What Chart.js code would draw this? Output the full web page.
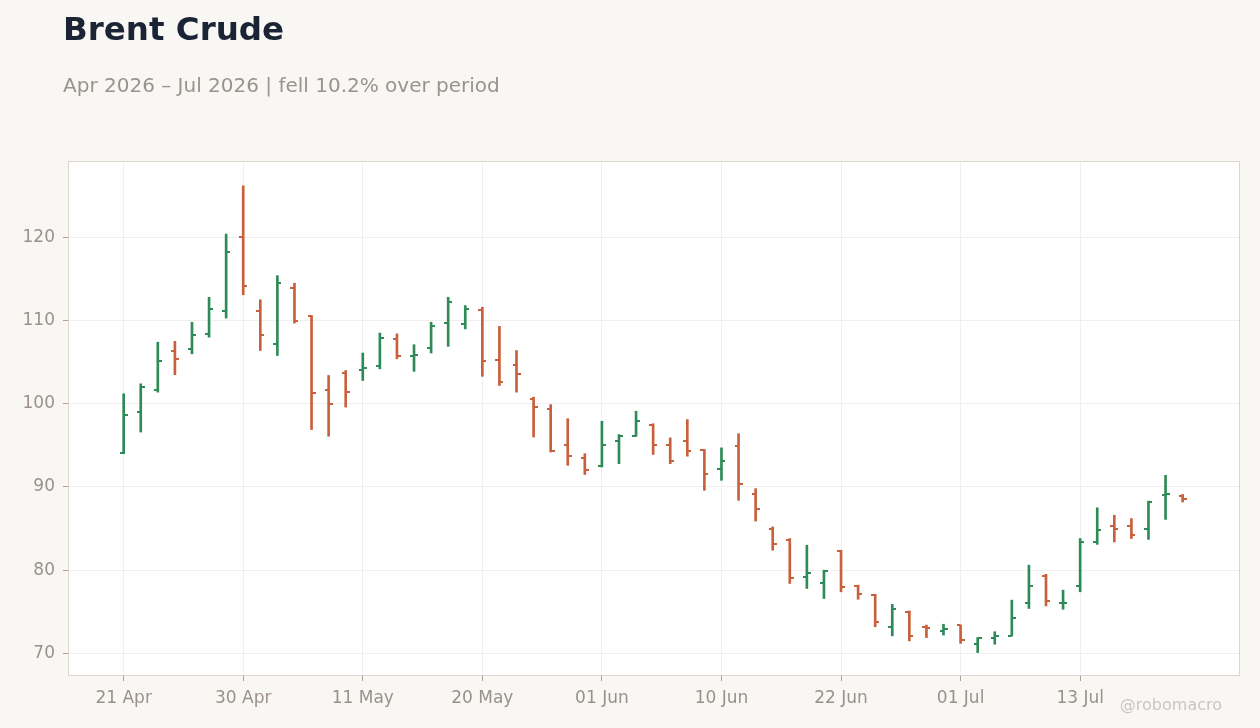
<!DOCTYPE html>
<html>
<head>
<meta charset="utf-8">
<script src="https://cdn.jsdelivr.net/npm/chart.js@4.4.1/dist/chart.umd.min.js"></script>
<style>
html,body{margin:0;padding:0;background:#f9f7f4;}
#wrap{position:relative;width:1260px;height:728px;}
</style>
</head>
<body>
<div id="wrap"><canvas id="c"></canvas></div>
<script>
/* DATA */
const dates=['21 Apr','22 Apr','23 Apr','24 Apr','27 Apr','28 Apr','29 Apr','30 Apr',
  '01 May','04 May','05 May','06 May','07 May','08 May','11 May','12 May','13 May','14 May','15 May',
  '18 May','19 May','20 May','21 May','22 May','26 May','27 May','28 May','29 May',
  '01 Jun','02 Jun','03 Jun','04 Jun','05 Jun','08 Jun','09 Jun','10 Jun','11 Jun','12 Jun',
  '15 Jun','16 Jun','17 Jun','18 Jun','22 Jun','23 Jun','24 Jun','25 Jun','26 Jun','29 Jun','30 Jun',
  '01 Jul','02 Jul','06 Jul','07 Jul','08 Jul','09 Jul','10 Jul','13 Jul','14 Jul','15 Jul','16 Jul',
  '17 Jul','20 Jul','21 Jul'];
const opens=[94.1,99.0,101.7,106.4,106.6,108.4,111.2,120.1,111.2,107.2,113.9,110.6,101.6,103.7,104.0,104.5,
  107.8,105.7,106.7,109.7,109.6,111.3,105.3,104.7,100.6,99.4,95.0,93.5,92.5,95.5,96.1,97.4,95.1,95.5,94.4,
  92.2,94.9,89.2,85.0,83.6,79.2,78.4,82.3,78.1,77.0,73.2,75.0,73.2,72.7,73.4,71.1,71.9,72.1,76.0,79.3,76.0,
  78.1,83.4,85.3,85.3,84.9,89.0,88.9];
const highs=[101.2,102.4,107.4,107.5,109.8,112.8,120.4,126.2,112.5,115.4,114.5,110.6,103.4,104.0,106.1,108.5,
  108.4,107.1,109.8,112.8,111.8,111.6,109.3,106.4,100.8,99.9,98.2,94.0,97.9,96.3,99.1,97.6,95.9,98.1,94.5,
  94.7,96.4,89.8,85.2,83.8,83.0,80.0,82.4,78.2,77.1,75.9,75.1,73.4,73.5,73.4,71.9,72.6,76.4,80.6,79.5,77.6,
  83.8,87.5,86.6,86.2,88.3,91.4,89.1];
const lows=[94.0,96.6,101.4,103.5,106.0,108.0,110.3,113.1,106.4,105.8,109.7,96.9,96.1,99.6,102.8,104.2,
  105.4,103.9,106.1,106.9,109.0,103.3,102.2,101.4,96.0,94.2,92.6,91.5,92.4,92.8,96.1,93.9,92.8,93.7,89.6,
  90.8,88.4,85.9,82.4,78.4,77.8,76.6,77.4,76.5,73.2,72.1,71.5,71.9,72.2,71.2,70.1,71.1,72.1,75.4,75.7,75.3,
  77.4,83.1,83.4,83.8,83.7,86.1,88.2];
const closes=[98.6,102.0,105.2,105.4,108.3,111.4,118.2,114.2,108.3,114.5,109.9,101.3,100.0,101.4,104.3,107.9,
  105.7,105.9,109.4,112.2,111.4,105.1,102.6,103.6,99.6,94.3,93.7,92.1,95.0,96.1,97.9,95.0,93.1,94.3,91.5,
  93.1,90.4,87.3,83.2,79.0,79.6,79.9,78.0,77.1,73.8,75.3,72.1,73.1,72.9,71.6,71.8,72.1,74.2,78.1,76.3,76.1,
  83.4,84.8,84.9,84.2,88.2,89.2,88.5];
const xTicks=[0,7,14,21,28,35,42,49,56];
const yTicks=[70,80,90,100,110,120];

const UP='#2e8b57',DN='#c8603c';
const isUp=i=>closes[i]>=opens[i];

/* tick marks for open (left) and close (right) */
function tickImg(color,side){
  const cv=document.createElement('canvas');
  cv.width=8;cv.height=2;
  const g=cv.getContext('2d');
  g.fillStyle=color;
  g.fillRect(side==='left'?0:4,0,4,2);
  return cv;
}
const IMG={upL:tickImg(UP,'left'),upR:tickImg(UP,'right'),dnL:tickImg(DN,'left'),dnR:tickImg(DN,'right')};

/* PLUGINS */
const frame={
  id:'frame',
  beforeDraw(ch){
    const {ctx,chartArea:a}=ch;
    ctx.save();
    ctx.fillStyle='#f9f7f4';ctx.fillRect(0,0,ch.width,ch.height);
    ctx.fillStyle='#ffffff';ctx.fillRect(a.left,a.top,a.right-a.left,a.bottom-a.top);
    ctx.restore();
  },
  beforeDatasetsDraw(ch){
    const {ctx,chartArea:a}=ch;
    ctx.save();
    ctx.strokeStyle='#ddd6ce';ctx.lineWidth=1;
    ctx.strokeRect(a.left-0.5,a.top-0.5,a.right-a.left+1,a.bottom-a.top+1);
    ctx.restore();
  },
  afterDraw(ch){
    const ctx=ch.ctx;
    ctx.save();
    ctx.textBaseline='alphabetic';
    ctx.fillStyle='#1b2434';ctx.font='bold 32.5px "DejaVu Sans"';
    ctx.fillText('Brent Crude',63,40);
    ctx.fillStyle='#9a938d';ctx.font='20px "DejaVu Sans"';
    ctx.fillText('Apr 2026 – Jul 2026 | fell 10.2% over period',63,92);
    ctx.fillStyle='#cbc6c1';ctx.font='16px "DejaVu Sans"';ctx.textAlign='right';
    ctx.fillText('@robomacro',1222,710);
    ctx.restore();
  }
};

/* CHART */
const tickFont={family:'"DejaVu Sans"',size:17};
new Chart(document.getElementById('c'),{
  type:'bar',
  data:{datasets:[
    {data:dates.map((d,i)=>({x:i,y:[lows[i],highs[i]]})),
     backgroundColor:dates.map((d,i)=>isUp(i)?UP:DN),barThickness:2,borderWidth:0},
    {type:'scatter',data:dates.map((d,i)=>({x:i,y:opens[i]})),pointRadius:4,
     pointStyle:c=>isUp(c.dataIndex)?IMG.upL:IMG.dnL},
    {type:'scatter',data:dates.map((d,i)=>({x:i,y:closes[i]})),pointRadius:4,
     pointStyle:c=>isUp(c.dataIndex)?IMG.upR:IMG.dnR},
  ]},
  options:{
    responsive:true,maintainAspectRatio:false,animation:false,events:[],
    layout:{padding:{top:162,right:21,left:0,bottom:0}},
    plugins:{legend:{display:false},tooltip:{enabled:false}},
    scales:{
      x:{type:'linear',min:-3.2,max:65.3,offset:false,
        afterBuildTicks:s=>{s.ticks=xTicks.map(v=>({value:v}));},
        afterFit:s=>{s.height=53;},
        ticks:{color:'#9a918a',font:tickFont,padding:7,maxRotation:0,callback:v=>dates[v]},
        grid:{color:'#efefef',tickColor:'#a8a099',tickLength:6,offset:false},
        border:{display:false}},
      y:{min:67.4,max:129.06,
        afterBuildTicks:s=>{s.ticks=yTicks.map(v=>({value:v}));},
        afterFit:s=>{s.width=69;},
        ticks:{color:'#9a918a',font:tickFont,padding:8},
        grid:{color:'#efefef',tickColor:'#a8a099',tickLength:6},
        border:{display:false}}
    }
  },
  plugins:[frame]
});
</script>
</body>
</html>
